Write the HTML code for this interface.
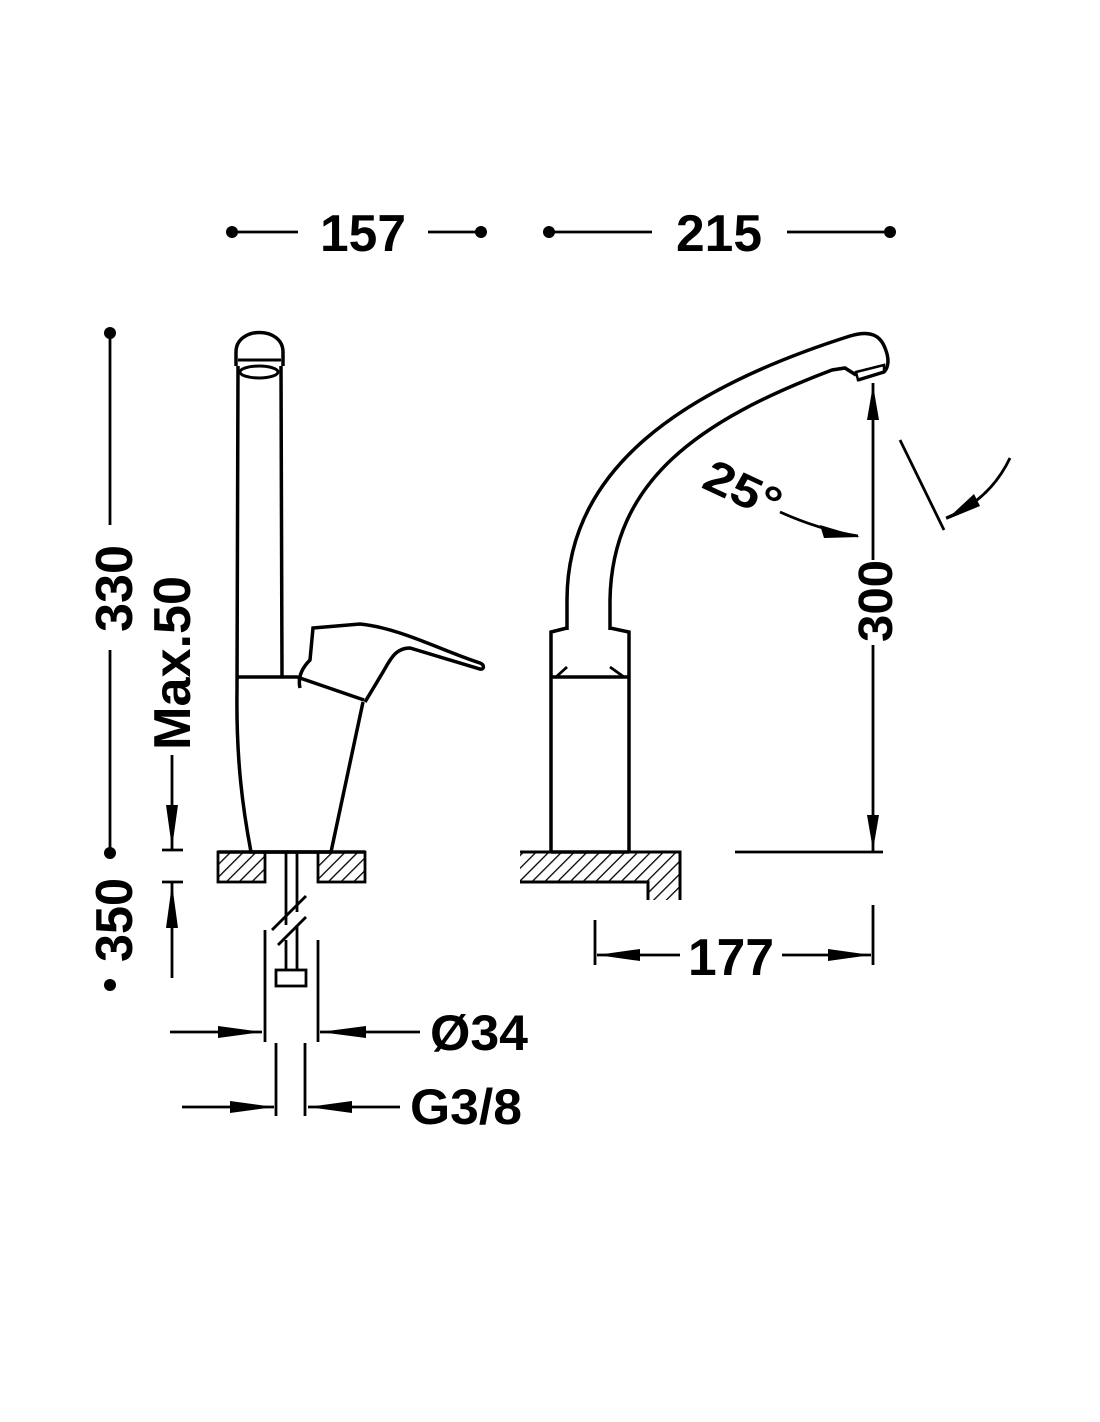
<!DOCTYPE html>
<html><head><style>html,body{margin:0;padding:0;background:#fff}svg{display:block}</style></head>
<body>
<svg width="1100" height="1422" viewBox="0 0 1100 1422" xmlns="http://www.w3.org/2000/svg">
<defs>
<pattern id="h" width="9" height="9" patternUnits="userSpaceOnUse" patternTransform="rotate(45)">
<line x1="0" y1="0" x2="0" y2="9" stroke="#000" stroke-width="2.6"/>
</pattern>
</defs>
<g font-family="Liberation Sans, sans-serif" font-weight="bold" fill="#000">
<text x="320" y="251" font-size="52" textLength="86" lengthAdjust="spacingAndGlyphs">157</text>
<text x="676" y="251" font-size="52" textLength="86" lengthAdjust="spacingAndGlyphs">215</text>
<text x="688" y="975" font-size="52" textLength="86" lengthAdjust="spacingAndGlyphs">177</text>
<text x="430" y="1050" font-size="50" textLength="98" lengthAdjust="spacingAndGlyphs">Ø34</text>
<text x="410" y="1124" font-size="50" textLength="112" lengthAdjust="spacingAndGlyphs">G3/8</text>
<text transform="translate(132,632) rotate(-90)" font-size="52" textLength="87" lengthAdjust="spacingAndGlyphs">330</text>
<text transform="translate(132,962) rotate(-90)" font-size="52" textLength="84" lengthAdjust="spacingAndGlyphs">350</text>
<text transform="translate(190,750) rotate(-90)" font-size="52" textLength="174" lengthAdjust="spacingAndGlyphs">Max.50</text>
<text transform="translate(892,642) rotate(-90)" font-size="48" textLength="82" lengthAdjust="spacingAndGlyphs">300</text>
<text transform="translate(700,487) rotate(25)" font-size="46" textLength="80" lengthAdjust="spacingAndGlyphs">25°</text>
</g>
<g stroke="#000" stroke-width="2.8" fill="none">
<line x1="232" y1="232" x2="298" y2="232"/><line x1="428" y1="232" x2="481" y2="232"/>
<line x1="549" y1="232" x2="652" y2="232"/><line x1="787" y1="232" x2="890" y2="232"/>
<line x1="110" y1="333" x2="110" y2="525"/><line x1="110" y1="650" x2="110" y2="853"/>
<line x1="172" y1="755" x2="172" y2="850"/><line x1="162" y1="850" x2="183" y2="850"/>
<line x1="162" y1="882" x2="183" y2="882"/><line x1="172" y1="882" x2="172" y2="978"/>
<!-- left faucet -->
<path d="M236,366 L236,352 C236,326 283,326 283,352 L283,366" stroke-width="3.5"/>
<path d="M238,360 L281,360" stroke-width="3"/>
<ellipse cx="259" cy="372" rx="19" ry="6" stroke-width="3"/>
<path d="M238,366 L237,690 C236,760 243,810 251,852 L331,852 L363,702" stroke-width="3.5"/>
<path d="M281,366 L282,677" stroke-width="3.5"/>
<path d="M237,677 L297,677 L364,700" stroke-width="3.5"/>
<path d="M300,688 C297,675 305,665 310,660 L313,628 L360,624 C400,628 440,650 480,663 C485,665 484,670 480,669 L410,648 C395,648 390,660 383,672 L365,702" stroke-width="3.5"/>
<!-- left counter -->
<rect x="218" y="852" width="47" height="30" fill="url(#h)"/>
<rect x="318" y="852" width="47" height="30" fill="url(#h)"/>
<line x1="218" y1="852" x2="365" y2="852" stroke-width="3.5"/>
<line x1="286" y1="852" x2="286" y2="925"/><line x1="297" y1="852" x2="297" y2="912"/>
<line x1="272" y1="930" x2="306" y2="896"/><line x1="278" y1="945" x2="306" y2="917"/>
<line x1="286" y1="940" x2="286" y2="970"/><line x1="297" y1="925" x2="297" y2="970"/>
<rect x="276" y="970" width="30" height="16"/>
<line x1="265" y1="930" x2="265" y2="1042"/><line x1="318" y1="940" x2="318" y2="1042"/>
<line x1="170" y1="1032" x2="262" y2="1032"/><line x1="320" y1="1032" x2="420" y2="1032"/>
<line x1="276" y1="1043" x2="276" y2="1116"/><line x1="305" y1="1043" x2="305" y2="1116"/>
<line x1="182" y1="1107" x2="274" y2="1107"/><line x1="308" y1="1107" x2="400" y2="1107"/>
<!-- right faucet -->
<path d="M567,630 L567,600 C567,470 680,390 850,336 C870,330 880,335 885,348 C890,360 888,368 884,372 L858,380" stroke-width="3.5"/>
<path d="M610,630 L610,600 C612,480 700,420 832,370 L845,368 L856,375" stroke-width="3.5"/>
<path d="M856,372 L884,365 L884,372 L858,380 Z" stroke-width="2.5"/>
<path d="M551,852 L551,632 L567,628 M610,628 L629,632 L629,852" stroke-width="3.5"/>
<line x1="551" y1="677" x2="629" y2="677" stroke-width="3.5"/>
<path d="M556,677 L567,667 M624,677 L610,667"/>
<line x1="551" y1="852" x2="629" y2="852" stroke-width="3.5"/>
<path d="M520,852 L680,852 L680,900 L648,900 L648,882 L520,882 Z" fill="url(#h)" stroke="none"/>
<path d="M520,852 L680,852 L680,900 M520,882 L648,882 L648,900" stroke-width="3"/>
<line x1="873" y1="383" x2="873" y2="560"/><line x1="873" y1="645" x2="873" y2="852"/>
<line x1="735" y1="852" x2="883" y2="852"/>
<path d="M780,512 Q820,530 858,536"/>
<line x1="900" y1="440" x2="944" y2="530"/>
<path d="M1010,458 Q990,500 946,518"/>
<line x1="595" y1="920" x2="595" y2="965"/><line x1="873" y1="905" x2="873" y2="965"/>
<line x1="597" y1="955" x2="680" y2="955"/><line x1="782" y1="955" x2="871" y2="955"/>
</g>
<g fill="#000">
<circle cx="232" cy="232" r="6"/><circle cx="481" cy="232" r="6"/>
<circle cx="549" cy="232" r="6"/><circle cx="890" cy="232" r="6"/>
<circle cx="110" cy="333" r="6"/><circle cx="110" cy="853" r="6"/><circle cx="110" cy="985" r="6"/>
<polygon points="166,805 178,805 172,848"/>
<polygon points="166,928 178,928 172,884"/>
<polygon points="218,1026 218,1038 262,1032"/>
<polygon points="366,1026 366,1038 320,1032"/>
<polygon points="230,1101 230,1113 274,1107"/>
<polygon points="352,1101 352,1113 308,1107"/>
<polygon points="867,420 879,420 873,385"/>
<polygon points="867,815 879,815 873,850"/>
<polygon points="640,949 640,961 597,955"/>
<polygon points="828,949 828,961 871,955"/>
<polygon points="820,525 824,538 860,537"/>
<polygon points="974,494 980,506 946,520"/>
</g>
</svg>
</body></html>
